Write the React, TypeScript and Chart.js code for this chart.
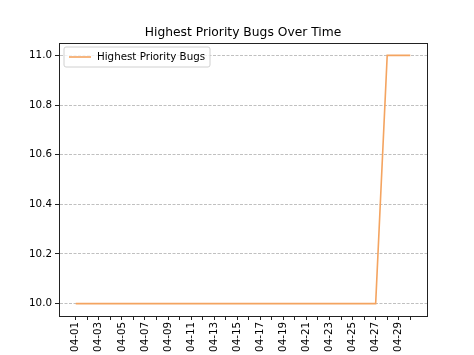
import React, { useEffect, useRef } from "react";
import { Chart, registerables } from "chart.js";

Chart.register(...registerables);

const dates: string[] = Array.from({ length: 30 }, (_, i) => `04-${String(i + 1).padStart(2, "0")}`);
const bugCounts: number[] = [
  10, 10, 10, 10, 10, 10, 10, 10, 10, 10,
  10, 10, 10, 10, 10, 10, 10, 10, 10, 10,
  10, 10, 10, 10, 10, 10, 10, 11, 11, 11,
];
const yTicks: number[] = [10.0, 10.2, 10.4, 10.6, 10.8, 11.0];
const title = "Highest Priority Bugs Over Time";
const seriesLabel = "Highest Priority Bugs";
const lineColor = "#f4a460";
const FONT = "'DejaVu Sans', sans-serif";

const framePlugin = {
  id: "frameAndLegend",
  afterDraw(chart: any) {
    const { ctx, chartArea } = chart;
    const { left, right, top, bottom } = chartArea;
    ctx.save();
    // frame
    ctx.strokeStyle = "#222";
    ctx.lineWidth = 1;
    ctx.strokeRect(Math.round(left) + 0.5, Math.round(top) + 0.5, Math.round(right - left), Math.round(bottom - top));
    // title
    ctx.fillStyle = "#000";
    ctx.font = `12.3px ${FONT}`;
    ctx.textAlign = "center";
    ctx.textBaseline = "alphabetic";
    ctx.fillText(title, (left + right) / 2, top - 7);
    // legend
    const lx = left + 5, ly = top + 4, lw = 146, lh = 20;
    ctx.fillStyle = "rgba(255,255,255,0.8)";
    ctx.strokeStyle = "#d0d0d0";
    ctx.lineWidth = 1;
    ctx.beginPath();
    const r = 2;
    ctx.moveTo(lx + r, ly);
    ctx.arcTo(lx + lw, ly, lx + lw, ly + lh, r);
    ctx.arcTo(lx + lw, ly + lh, lx, ly + lh, r);
    ctx.arcTo(lx, ly + lh, lx, ly, r);
    ctx.arcTo(lx, ly, lx + lw, ly, r);
    ctx.closePath();
    ctx.fill();
    ctx.stroke();
    ctx.strokeStyle = lineColor;
    ctx.lineWidth = 1.6;
    ctx.beginPath();
    ctx.moveTo(lx + 5, ly + lh / 2);
    ctx.lineTo(lx + 27, ly + lh / 2);
    ctx.stroke();
    ctx.fillStyle = "#000";
    ctx.font = `10.3px ${FONT}`;
    ctx.textAlign = "left";
    ctx.textBaseline = "middle";
    ctx.fillText(seriesLabel, lx + 33, ly + lh / 2 + 0.5);
    ctx.restore();
  },
};

export default function App() {
  const ref = useRef<HTMLCanvasElement>(null);
  useEffect(() => {
    if (!ref.current) return;
    const chart = new Chart(ref.current, {
      type: "line",
      data: {
        datasets: [
          {
            label: seriesLabel,
            data: bugCounts.map((v, i) => ({ x: i, y: v })),
            borderColor: lineColor,
            backgroundColor: lineColor,
            borderWidth: 1.6,
            pointRadius: 0,
            tension: 0,
          },
        ],
      },
      options: {
        responsive: false,
        animation: false,
        devicePixelRatio: 1,
        layout: { padding: { left: 0, right: 47, top: 43, bottom: 0 } },
        plugins: {
          legend: { display: false },
          title: { display: false },
          tooltip: { enabled: false },
        },
        scales: {
          x: {
            type: "linear",
            min: -1.45,
            max: 30.45,
            afterBuildTicks: (scale: any) => {
              scale.ticks = dates.map((_, i) => ({ value: i }));
            },
            afterFit: (scale: any) => {
              scale.height = 39;
            },
            ticks: {
              autoSkip: false,
              maxRotation: 90,
              minRotation: 90,
              color: "#000",
              font: { family: FONT, size: 10.3 },
              padding: 2,
              callback: (v: any) => {
                const i = Math.round(Number(v));
                return i % 2 === 0 ? dates[i] : "";
              },
            },
            grid: {
              display: true,
              drawOnChartArea: false,
              drawTicks: true,
              tickLength: 4,
              tickColor: "#222",
              tickWidth: 1,
            },
            border: { display: true, color: "#222", width: 1 },
          },
          y: {
            type: "linear",
            min: 9.95,
            max: 11.05,
            afterBuildTicks: (scale: any) => {
              scale.ticks = yTicks.map((v) => ({ value: v }));
            },
            afterFit: (scale: any) => {
              scale.width = 59;
            },
            ticks: {
              color: "#000",
              font: { family: FONT, size: 10.3 },
              padding: 3,
              callback: (v: any) => Number(v).toFixed(1),
            },
            grid: {
              display: true,
              drawOnChartArea: true,
              drawTicks: true,
              tickLength: 4,
              color: "#b0b0b0",
              tickColor: "#222",
              lineWidth: 0.8,
              tickWidth: 1,
              tickBorderDash: [],
            } as any,
            border: { display: true, color: "#222", width: 1, dash: [3, 1.5] },
          },
        },
      },
      plugins: [framePlugin],
    } as any);
    return () => chart.destroy();
  }, []);
  return (
    <div style={{ position: "fixed", left: 0, top: 0, width: 474, height: 355, background: "#fff" }}>
      <canvas ref={ref} width={474} height={355} style={{ width: 474, height: 355, display: "block" }} />
    </div>
  );
}
